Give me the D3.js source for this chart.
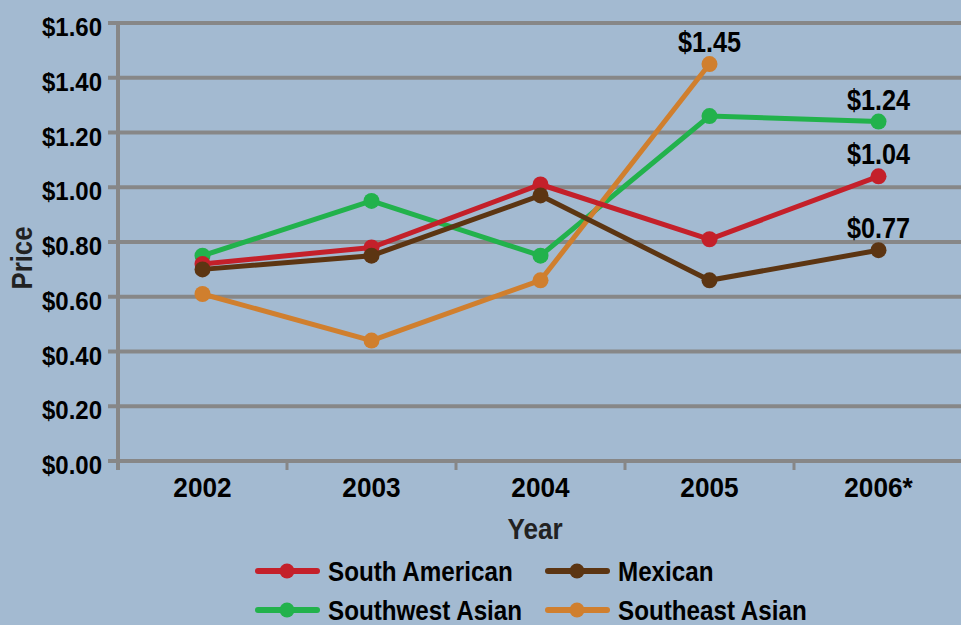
<!DOCTYPE html>
<html><head><meta charset="utf-8">
<script src="https://cdnjs.cloudflare.com/ajax/libs/d3/7.8.5/d3.min.js"></script>
<style>html,body{margin:0;padding:0;background:#a3bad1;}svg{display:block;font-family:"Liberation Sans",Arial,sans-serif;font-weight:bold;}</style>
</head><body><svg id="c" width="961" height="625"></svg>
<script>
const years = ["2002","2003","2004","2005","2006*"];
const seriesNames = ["South American","Mexican","Southwest Asian","Southeast Asian"];
const southAmerican = [0.72,0.78,1.01,0.81,1.04];
const mexican = [0.70,0.75,0.97,0.66,0.77];
const southwestAsian = [0.75,0.95,0.75,1.26,1.24];
const southeastAsian = [0.61,0.44,0.66,1.45,null];
const yTicks = [0,0.2,0.4,0.6,0.8,1.0,1.2,1.4,1.6];
const colors = ["#c4202a","#5c3512","#22b24c","#d07f2e"];
const labels = [{s:3,i:3,t:"$1.45"},{s:2,i:4,t:"$1.24"},{s:0,i:4,t:"$1.04"},{s:1,i:4,t:"$0.77"}];

const allSeries = [southAmerican,mexican,southwestAsian,southeastAsian];
const svg = d3.select("#c");
const x0=118, x1=963, yTop=23, yBot=461;
const x = d3.scaleBand().domain(years).range([x0,x1]);
const y = d3.scaleLinear().domain([0,1.6]).range([yBot,yTop]);
const grid="#878787";

function condense(sel, k){
  sel.each(function(){
    const w=this.getComputedTextLength();
    d3.select(this).attr("textLength",w*k).attr("lengthAdjust","spacingAndGlyphs");
  });
}

// gridlines
svg.append("g").selectAll("line").data(yTicks).join("line")
  .attr("x1",x0-10).attr("x2",961).attr("y1",d=>y(d)).attr("y2",d=>y(d))
  .attr("stroke",grid).attr("stroke-width",4);
// y axis line
svg.append("line").attr("x1",x0).attr("x2",x0).attr("y1",yTop).attr("y2",yBot+9).attr("stroke",grid).attr("stroke-width",4);
// x ticks at band boundaries
svg.append("g").selectAll("line").data(years.slice(1)).join("line")
  .attr("x1",d=>x(d)).attr("x2",d=>x(d)).attr("y1",yBot).attr("y2",yBot+9).attr("stroke",grid).attr("stroke-width",3);
// y labels
svg.append("g").selectAll("text").data(yTicks).join("text")
  .attr("x",102).attr("y",d=>y(d)+13).attr("text-anchor","end")
  .attr("font-size",25).attr("fill","#000").text(d=>"$"+d.toFixed(2)).call(condense,0.96);
// x labels
svg.append("g").selectAll("text").data(years).join("text")
  .attr("x",d=>x(d)+x.bandwidth()/2).attr("y",497).attr("text-anchor","middle")
  .attr("font-size",27).attr("fill","#000").text(d=>d).call(condense,0.97);
svg.append("text").attr("x",535).attr("y",539).attr("text-anchor","middle").attr("font-size",29).attr("fill","#222").text("Year").call(condense,0.9);
svg.append("text").attr("transform","translate(32,258) rotate(-90)").attr("text-anchor","middle").attr("font-size",29).attr("fill","#222").text("Price").call(condense,0.89);

const cx = i=>x(years[i])+x.bandwidth()/2;
const line = d3.line().defined(d=>d.v!=null).x(d=>cx(d.i)).y(d=>y(d.v));
const order=[2,3,0,1];
order.forEach(s=>{
  const pts = allSeries[s].map((v,i)=>({v,i}));
  svg.append("path").attr("d",line(pts)).attr("fill","none").attr("stroke",colors[s]).attr("stroke-width",5);
  svg.append("g").selectAll("circle").data(pts.filter(d=>d.v!=null)).join("circle")
    .attr("cx",d=>cx(d.i)).attr("cy",d=>y(d.v)).attr("r",8).attr("fill",colors[s]);
});
svg.append("g").selectAll("text").data(labels).join("text")
  .attr("x",d=>cx(d.i)).attr("y",d=>y(allSeries[d.s][d.i])-12).attr("text-anchor","middle")
  .attr("font-size",29).attr("fill","#000").text(d=>d.t).call(condense,0.87);

// legend
const leg=[{s:0,x:255,y:571},{s:1,x:545,y:571},{s:2,x:255,y:610},{s:3,x:545,y:610}];
const lg = svg.append("g").selectAll("g").data(leg).join("g").attr("transform",d=>`translate(${d.x},${d.y})`);
lg.append("line").attr("x1",3).attr("x2",62).attr("stroke",d=>colors[d.s]).attr("stroke-width",6).attr("stroke-linecap","round");
lg.append("circle").attr("cx",32).attr("r",7.5).attr("fill",d=>colors[d.s]);
lg.append("text").attr("x",73).attr("y",10).attr("font-size",27.5).attr("fill","#000").text(d=>seriesNames[d.s]).call(condense,0.88);
</script></body></html>
